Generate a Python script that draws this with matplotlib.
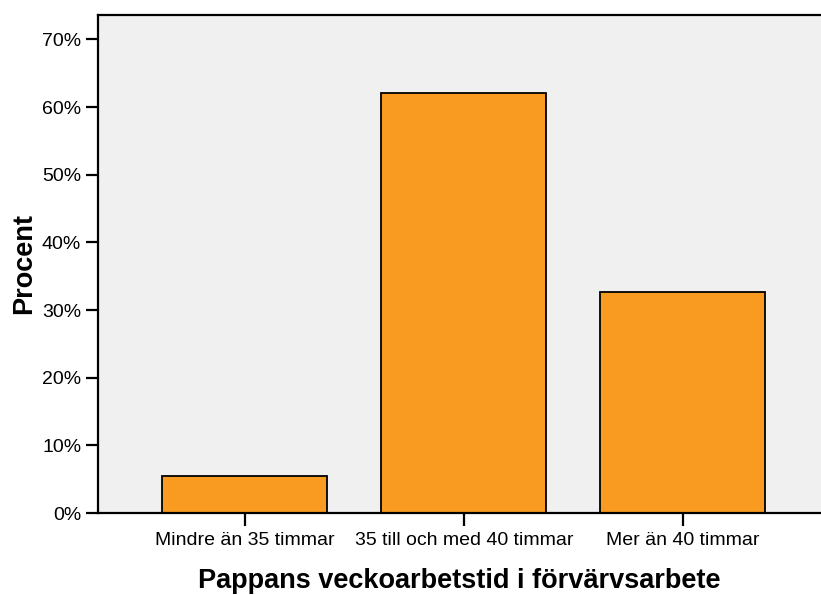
import matplotlib
matplotlib.use("Agg")
import matplotlib.pyplot as plt
from matplotlib.ticker import FuncFormatter

# data
kategorier = ["Mindre än 35 timmar", "35 till och med 40 timmar", "Mer än 40 timmar"]
procent = [5.5, 62.0, 32.7]
y_ticks = [0, 10, 20, 30, 40, 50, 60, 70]

plt.rcParams["font.family"] = ["Liberation Sans", "DejaVu Sans"]

fig = plt.figure(figsize=(8.21, 5.95), dpi=100)
ax = fig.add_axes([98 / 821, 82 / 595, 731.5 / 821, 498 / 595])
ax.set_facecolor("#f0f0f0")

x = range(len(kategorier))
ax.bar(x, procent, width=0.753, color="#f99b20", edgecolor="black", linewidth=1.3, zorder=2)

ax.set_xlim(-0.669, 2.669)
ax.set_ylim(0, 73.6)
ax.set_yticks(y_ticks)
ax.yaxis.set_major_formatter(FuncFormatter(lambda v, p: f"{v:.0f}%"))
ax.set_xticks(list(x))
ax.set_xticklabels(kategorier)

for s in ["left", "bottom", "top", "right"]:
    ax.spines[s].set_linewidth(1.6)
ax.tick_params(axis="y", length=8.6, width=1.6, pad=3.5, labelsize=14)
ax.tick_params(axis="x", length=9.5, width=1.6, pad=4, labelsize=14)

fig.text(459.5 / 821, 7 / 595, "Pappans veckoarbetstid i förvärvsarbete",
         ha="center", va="baseline", fontsize=19.5, fontweight="bold")
fig.text(24 / 821, 1 - 263 / 595, "Procent", rotation=90,
         ha="center", va="center", fontsize=19.5, fontweight="bold")

fig.savefig("out.png", dpi=100)
